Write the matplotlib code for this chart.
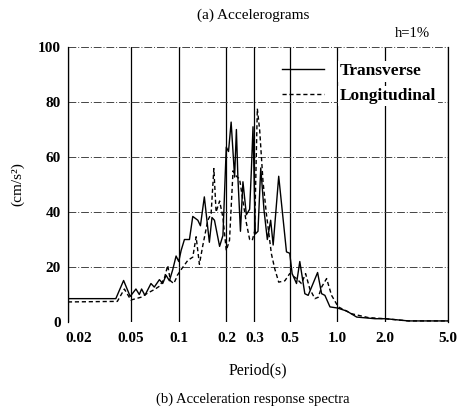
import matplotlib
matplotlib.use('Agg')
import matplotlib.pyplot as plt
import matplotlib.transforms as mtransforms
from matplotlib.ticker import FixedLocator, FixedFormatter, NullLocator

plt.rcParams['font.family'] = ['Liberation Serif', 'DejaVu Serif']

# transverse component (solid)
trans_t = [0.02, 0.0401, 0.0449, 0.0494, 0.0537, 0.0564, 0.0583, 0.0612, 0.0668, 0.0701,
           0.0755, 0.0792, 0.0832, 0.0873, 0.0916, 0.0962, 0.1, 0.1035, 0.1086, 0.1168,
           0.1226, 0.132, 0.137, 0.145, 0.156, 0.162, 0.168, 0.181, 0.190, 0.1994,
           0.206, 0.214, 0.225, 0.231, 0.236, 0.245, 0.254, 0.267, 0.280, 0.287,
           0.294, 0.304, 0.316, 0.329, 0.345, 0.362, 0.380, 0.394, 0.427, 0.478,
           0.501, 0.519, 0.553, 0.580, 0.624, 0.655, 0.751, 0.796, 0.835, 0.899,
           1.0, 1.146, 1.325, 1.731, 2.02, 2.81, 5.0]
trans_a = [8.5, 8.5, 15.1, 9.3, 12.0, 10.0, 12.0, 9.7, 14.0, 12.7,
           15.4, 14.0, 17.0, 15.0, 19.0, 24.0, 22.0, 26.0, 30.0, 30.0,
           38.4, 37.0, 35.0, 45.5, 29.0, 38.0, 37.0, 27.5, 31.5, 63.6,
           62.0, 72.7, 52.7, 70.0, 52.7, 33.0, 51.0, 39.0, 41.0, 55.0,
           71.0, 32.0, 33.0, 56.0, 40.6, 30.0, 37.0, 28.0, 53.0, 25.5,
           25.0, 17.6, 14.0, 22.0, 10.3, 9.7, 18.0, 10.3, 9.7, 5.5,
           5.1, 4.0, 1.8, 1.2, 1.2, 0.4, 0.4]

# longitudinal component (dashed)
long_t = [0.02, 0.041, 0.0454, 0.0499, 0.0537, 0.0577, 0.0636, 0.0701, 0.0755, 0.0811,
          0.0852, 0.0886, 0.093, 0.0962, 0.098, 0.1045, 0.114, 0.1226, 0.1287, 0.135,
          0.142, 0.1526, 0.160, 0.1665, 0.172, 0.181, 0.190, 0.1994, 0.209, 0.220,
          0.231, 0.242, 0.254, 0.267, 0.280, 0.291, 0.301, 0.313, 0.324, 0.340,
          0.357, 0.384, 0.403, 0.427, 0.467, 0.501, 0.553, 0.594, 0.631, 0.671,
          0.722, 0.758, 0.796, 0.856, 0.920, 1.014, 1.233, 1.571, 2.0, 2.81, 5.0]
long_a = [7.3, 7.5, 12.0, 8.0, 8.5, 9.0, 10.5, 11.8, 13.0, 15.8,
          20.6, 15.0, 14.0, 15.8, 17.0, 19.4, 22.4, 23.6, 31.0, 21.0,
          28.0, 37.0, 39.4, 55.8, 40.0, 44.0, 38.0, 26.0, 29.7, 55.0,
          53.0, 52.0, 44.0, 36.0, 30.0, 29.7, 33.0, 77.6, 69.7, 51.0,
          39.4, 24.8, 19.4, 14.5, 15.0, 17.6, 15.8, 14.0, 17.6, 12.0,
          8.5, 9.0, 12.7, 15.8, 9.7, 5.5, 3.0, 1.6, 1.2, 0.4, 0.4]

x_ticks = [0.02, 0.05, 0.1, 0.2, 0.3, 0.5, 1.0, 2.0, 5.0]
x_labels = ['0.02', '0.05', '0.1', '0.2', '0.3', '0.5', '1.0', '2.0', '5.0']
y_ticks = [0, 20, 40, 60, 80, 100]

fig = plt.figure(figsize=(4.62, 4.12), dpi=100)
ax = fig.add_axes([0.147, 0.2184, 0.823, 0.6675])

ax.plot(trans_t, trans_a, color='black', lw=1.0, label='Transverse')
ax.plot(long_t, long_a, color='black', lw=1.0, ls=(0, (3, 2)), label='Longitudinal')

ax.set_xscale('log')
ax.set_xlim(0.02, 5.0)
ax.set_ylim(0, 100)
ax.xaxis.set_major_locator(FixedLocator(x_ticks))
ax.xaxis.set_major_formatter(FixedFormatter(x_labels))
ax.xaxis.set_minor_locator(NullLocator())
ax.set_yticks(y_ticks)
ax.tick_params(length=0, labelsize=11, pad=5)
ax.tick_params(axis='x', pad=7)
for lbl in ax.get_xticklabels() + ax.get_yticklabels():
    lbl.set_fontweight('bold')

# first period label sits a little right of the left edge in the original
shift = mtransforms.ScaledTranslation(8 / 72, 0, fig.dpi_scale_trans)
first = ax.get_xticklabels()[0]
first.set_transform(first.get_transform() + shift)

# vertical grid solid, horizontal grid dash-dot
ax.grid(axis='x', color='black', lw=0.9, ls='-')
ax.grid(axis='y', color='#444444', lw=0.7, ls=(0, (8, 2, 1, 2)))
ax.set_axisbelow(True)
for s in ['top', 'bottom']:
    ax.spines[s].set_visible(False)
for s in ['left', 'right']:
    ax.spines[s].set_linewidth(0.9)

ax.set_ylabel('(cm/s²)', fontsize=11, labelpad=10)
ax.set_xlabel('Period(s)', fontsize=11.5, labelpad=13)

leg = ax.legend(loc='upper right', bbox_to_anchor=(1.0, 0.985), frameon=False,
                prop={'size': 12.5, 'weight': 'bold'}, handlelength=2.4,
                handletextpad=0.9, labelspacing=0.5, borderaxespad=0.3)
for t in leg.get_texts():
    t.set_bbox(dict(facecolor='white', edgecolor='none', pad=1.5))

fig.text(0.548, 0.962, '(a) Accelerograms', ha='center', va='center', fontsize=11)
fig.text(0.892, 0.918, 'h=1%', ha='center', va='center', fontsize=10.5)
fig.text(0.548, 0.03, '(b) Acceleration response spectra', ha='center', va='center', fontsize=10.5)

fig.savefig('out.png', dpi=100)
